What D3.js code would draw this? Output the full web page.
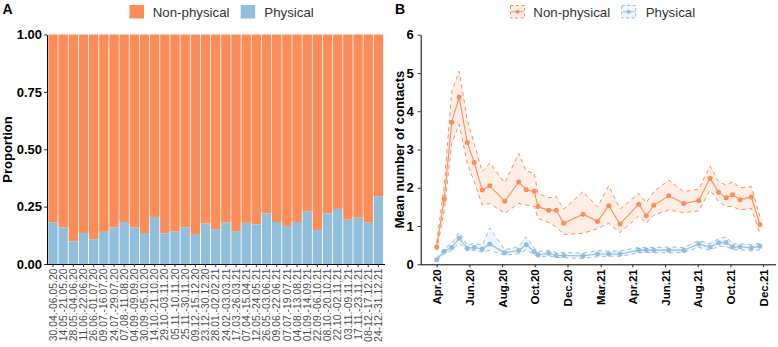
<!DOCTYPE html>
<html><head><meta charset="utf-8">
<script src="https://cdn.jsdelivr.net/npm/d3@7"></script>
<style>body{margin:0;background:#fff} svg{display:block} text{font-family:"Liberation Sans",Arial,Helvetica,sans-serif}</style>
</head><body><svg id="c" width="778" height="347"></svg>
<script>
// ---------- DATA ----------
const periods = ["30.04.-06.05.20","14.05.-21.05.20","28.05.-04.06.20","11.06.-22.06.20","26.06.-01.07.20","09.07.-16.07.20","24.07.-29.07.20","07.08.-11.08.20","04.09.-09.09.20","30.09.-05.10.20","14.10.-21.10.20","29.10.-03.11.20","05.11.-10.11.20","25.11.-30.11.20","09.12.-15.12.20","23.12.-30.12.20","28.01.-02.02.21","24.02.-03.03.21","17.03.-26.03.21","07.04.-15.04.21","12.05.-24.05.21","26.05.-03.06.21","09.06.-22.06.21","07.07.-19.07.21","04.08.-13.08.21","01.09.-14.09.21","22.09.-06.10.21","08.10.-20.10.21","22.10.-02.11.21","03.11.-09.11.21","17.11.-23.11.21","08-12.-17.12.21","24-12.-31.12.21"];
const physicalProportion = [0.182,0.159,0.099,0.135,0.106,0.140,0.159,0.183,0.159,0.135,0.205,0.134,0.141,0.160,0.127,0.176,0.152,0.180,0.143,0.179,0.173,0.220,0.183,0.166,0.183,0.228,0.148,0.220,0.240,0.193,0.204,0.180,0.294];
const startDates = ["2020-04-30","2020-05-14","2020-05-28","2020-06-11","2020-06-26","2020-07-09","2020-07-24","2020-08-07","2020-09-04","2020-09-30","2020-10-14","2020-10-29","2020-11-05","2020-11-25","2020-12-09","2020-12-23","2021-01-28","2021-02-24","2021-03-17","2021-04-07","2021-05-12","2021-05-26","2021-06-09","2021-07-07","2021-08-04","2021-09-01","2021-09-22","2021-10-08","2021-10-22","2021-11-03","2021-11-17","2021-12-08","2021-12-24"];
const nonPhysMean = [0.45,1.70,3.71,4.37,3.18,2.66,1.94,2.05,1.65,2.15,1.95,1.91,1.51,1.41,1.41,1.07,1.31,1.12,1.53,1.05,1.57,1.27,1.54,1.79,1.59,1.67,2.25,1.88,1.74,1.82,1.69,1.76,1.04];
const nonPhysLo   = [0.36,1.40,3.16,3.66,2.64,2.16,1.55,1.59,1.33,1.59,1.55,1.51,1.20,1.09,0.98,0.78,0.81,0.93,1.07,0.83,1.26,1.07,1.29,1.42,1.35,1.40,1.94,1.64,1.51,1.51,1.42,1.46,0.81];
const nonPhysHi   = [0.56,2.05,4.51,5.05,3.77,3.16,2.42,2.65,2.13,2.90,2.44,2.38,1.85,1.74,1.77,1.44,1.90,1.50,2.05,1.45,1.85,1.61,1.90,2.20,1.90,1.96,2.57,2.16,2.07,2.16,2.00,2.03,1.24];
const physMean = [0.12,0.34,0.44,0.68,0.42,0.44,0.40,0.53,0.30,0.36,0.51,0.33,0.25,0.29,0.23,0.23,0.22,0.27,0.27,0.27,0.37,0.37,0.37,0.37,0.37,0.53,0.45,0.56,0.57,0.45,0.46,0.43,0.47];
const physLo   = [0.08,0.27,0.36,0.56,0.35,0.36,0.32,0.36,0.24,0.27,0.38,0.25,0.19,0.22,0.18,0.17,0.15,0.20,0.21,0.21,0.30,0.31,0.30,0.30,0.31,0.44,0.37,0.47,0.47,0.38,0.38,0.35,0.38];
const physHi   = [0.16,0.42,0.54,0.84,0.50,0.55,0.50,0.95,0.38,0.46,0.72,0.42,0.33,0.37,0.30,0.31,0.29,0.36,0.34,0.35,0.44,0.44,0.44,0.45,0.44,0.62,0.54,0.67,0.72,0.53,0.54,0.51,0.55];
const yTicksA = [0,0.25,0.5,0.75,1];
const yTickLabelsA = ["0.00","0.25","0.50","0.75","1.00"];
const yTicksB = [0,1,2,3,4,5,6];
const xTickDatesB = ["2020-04-30","2020-06-30","2020-08-30","2020-10-30","2020-12-30","2021-03-02","2021-04-30","2021-06-30","2021-08-30","2021-10-30","2021-12-30"];
const xTickLabelsB = ["Apr.20","Jun.20","Aug.20","Oct.20","Dec.20","Mar.21","Apr.21","Jun.21","Aug.21","Oct.21","Dec.21"];
const seriesNames = ["Non-physical","Physical"];
const colors = {"Non-physical":"#fc8d59","Physical":"#91bfdb"};

// ---------- DRAW ----------
const svg = d3.select("#c");
const F = '"Liberation Sans",Arial,Helvetica,sans-serif';

// Panel A
const xA = d3.scaleBand().domain(periods).range([47.1,384.3]).paddingInner(0.08).paddingOuter(0.12);
const yA = d3.scaleLinear().domain([0,1]).range([264,34.5]);
const gA = svg.append("g");
gA.selectAll("rect.np").data(periods).join("rect")
  .attr("x", d=>xA(d)).attr("width", xA.bandwidth())
  .attr("y", yA(1)).attr("height", (d,i)=>yA(physicalProportion[i])-yA(1))
  .attr("fill", colors["Non-physical"]);
gA.selectAll("rect.p").data(periods).join("rect")
  .attr("x", d=>xA(d)).attr("width", xA.bandwidth())
  .attr("y", (d,i)=>yA(physicalProportion[i])).attr("height", (d,i)=>yA(0)-yA(physicalProportion[i]))
  .attr("fill", colors["Physical"]);

const axYA = gA.append("g").attr("transform","translate(47,0)")
  .call(d3.axisLeft(yA).tickValues(yTicksA).tickFormat((d,i)=>yTickLabelsA[i]).tickSize(3).tickPadding(2).tickSizeOuter(0));
axYA.selectAll("text").attr("font-family",F).attr("font-size",13).attr("font-weight","bold").attr("fill","#000");
axYA.selectAll("line").attr("stroke","#333");
axYA.select(".domain").attr("stroke","#000");

const axXA = gA.append("g").attr("transform","translate(0,264)")
  .call(d3.axisBottom(xA).tickSize(3).tickSizeOuter(0));
axXA.select(".domain").attr("d","M47,0.5H385").attr("stroke","#000");
axXA.selectAll("line").attr("stroke","#333");
axXA.selectAll("text").attr("font-family",F).attr("font-size",10.4).attr("fill","#4d4d4d")
  .attr("transform","rotate(-90)").attr("text-anchor","end").attr("x",-4.5).attr("y",0).attr("dy","0.35em");

svg.append("text").attr("transform","translate(11.5,149.5) rotate(-90)").attr("text-anchor","middle")
  .attr("font-family",F).attr("font-size",13).attr("font-weight","bold").text("Proportion");
svg.append("text").attr("x",2.5).attr("y",14).attr("font-family",F).attr("font-size",14).attr("font-weight","bold").text("A");

// Legend A
const legA = [{n:seriesNames[0],x:129.5,tx:152.7},{n:seriesNames[1],x:240.7,tx:264.3}];
legA.forEach(l=>{
  svg.append("rect").attr("x",l.x).attr("y",5).attr("width",14.5).attr("height",13.5).attr("fill",colors[l.n]);
  svg.append("text").attr("x",l.tx).attr("y",16.8).attr("font-family",F).attr("font-size",13.3).attr("fill","#333").text(l.n);
});

// Panel B
const parse = d3.utcParse("%Y-%m-%d");
const dates = startDates.map(parse);
const xB = d3.scaleUtc().domain([dates[0], dates[dates.length-1]]).range([436.7,759.9]);
const yB = d3.scaleLinear().domain([0,6]).range([264.3,34.7]);
const gB = svg.append("g");

function drawSeries(name, mean, lo, hi){
  const c = colors[name];
  const idx = d3.range(mean.length);
  gB.append("path").datum(idx).attr("fill",c).attr("fill-opacity",0.15)
    .attr("d", d3.area().x(i=>xB(dates[i])).y0(i=>yB(lo[i])).y1(i=>yB(hi[i])));
  [lo,hi].forEach(arr=>{
    gB.append("path").datum(idx).attr("fill","none").attr("stroke",c).attr("stroke-width",1)
      .attr("stroke-dasharray","4,3.5")
      .attr("d", d3.line().x(i=>xB(dates[i])).y(i=>yB(arr[i])));
  });
  gB.append("path").datum(idx).attr("fill","none").attr("stroke",c).attr("stroke-width",1.1)
    .attr("d", d3.line().x(i=>xB(dates[i])).y(i=>yB(mean[i])));
  gB.selectAll(null).data(idx).join("circle").attr("cx",i=>xB(dates[i])).attr("cy",i=>yB(mean[i]))
    .attr("r",2.5).attr("fill",c);
}
drawSeries("Non-physical", nonPhysMean, nonPhysLo, nonPhysHi);
drawSeries("Physical", physMean, physLo, physHi);

const axYB = gB.append("g").attr("transform","translate(420.7,0)")
  .call(d3.axisLeft(yB).tickValues(yTicksB).tickFormat(d3.format("d")).tickSize(3).tickPadding(4).tickSizeOuter(0));
axYB.selectAll("text").attr("font-family",F).attr("font-size",13).attr("font-weight","bold").attr("fill","#000");
axYB.selectAll("line").attr("stroke","#333");
axYB.select(".domain").attr("stroke","#000");

const tickDates = xTickDatesB.map(parse);
const axXB = gB.append("g").attr("transform","translate(0,264.3)")
  .call(d3.axisBottom(xB).tickValues(tickDates).tickFormat((d,i)=>xTickLabelsB[i]).tickSize(3).tickSizeOuter(0));
axXB.select(".domain").attr("d","M420.7,0.5H776").attr("stroke","#000");
axXB.selectAll("line").attr("stroke","#333");
axXB.selectAll("text").attr("font-family",F).attr("font-size",11.5).attr("font-weight","bold").attr("fill","#000")
  .attr("transform","rotate(-90)").attr("text-anchor","end").attr("x",-5).attr("y",0).attr("dy","0.35em");

svg.append("text").attr("transform","translate(403.5,149.5) rotate(-90)").attr("text-anchor","middle")
  .attr("font-family",F).attr("font-size",13).attr("font-weight","bold").text("Mean number of contacts");
svg.append("text").attr("x",395).attr("y",14).attr("font-family",F).attr("font-size",14).attr("font-weight","bold").text("B");

// Legend B
const legB = [{n:seriesNames[0],x:510.5,tx:533.3},{n:seriesNames[1],x:621.7,tx:645.7}];
legB.forEach(l=>{
  const c = colors[l.n];
  svg.append("rect").attr("x",l.x).attr("y",5.5).attr("width",14).attr("height",12.5)
    .attr("fill",c).attr("fill-opacity",0.15).attr("stroke",c).attr("stroke-dasharray","3,2.5").attr("stroke-width",1);
  svg.append("line").attr("x1",l.x+1).attr("x2",l.x+13).attr("y1",11.75).attr("y2",11.75).attr("stroke",c).attr("stroke-width",1);
  svg.append("circle").attr("cx",l.x+7).attr("cy",11.75).attr("r",2).attr("fill",c);
  svg.append("text").attr("x",l.tx).attr("y",16.8).attr("font-family",F).attr("font-size",13.3).attr("fill","#333").text(l.n);
});
</script></body></html>
